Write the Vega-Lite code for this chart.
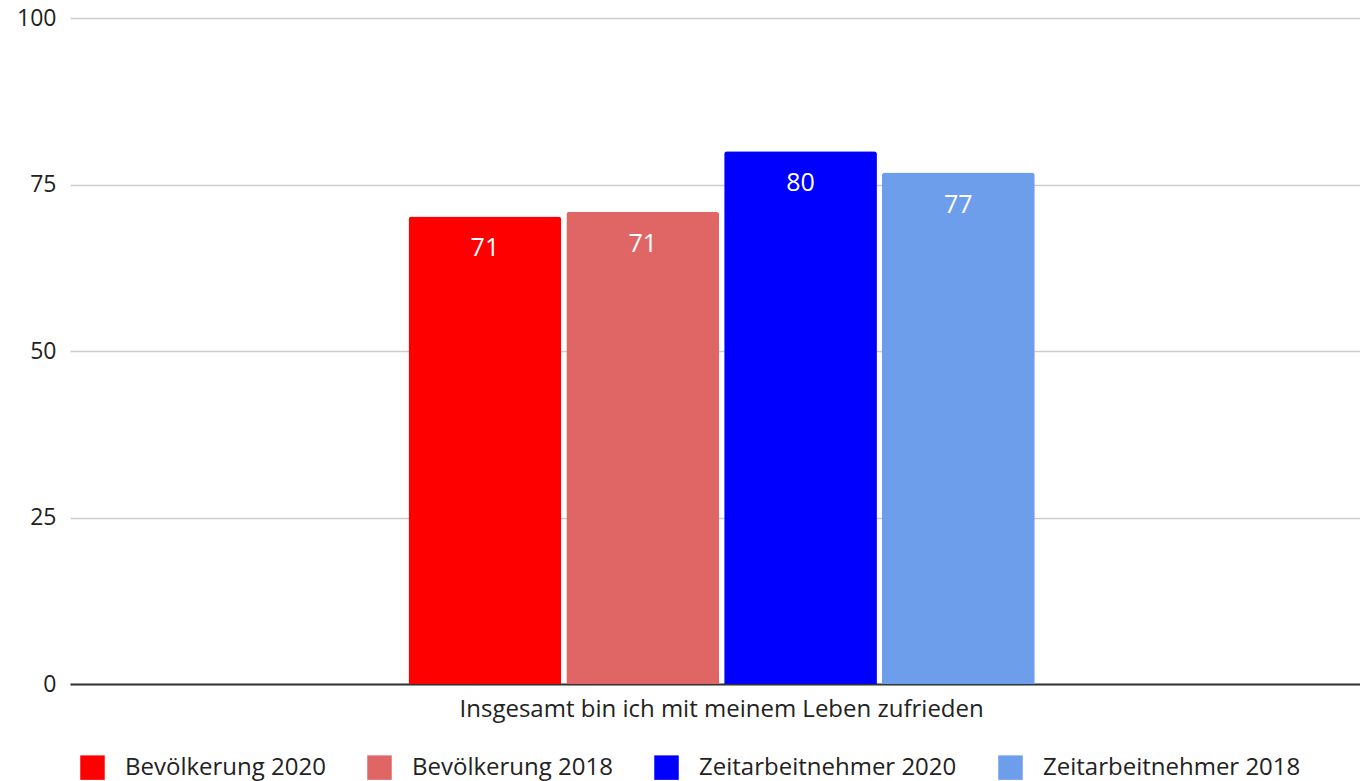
{
  "$schema": "https://vega.github.io/schema/vega-lite/v6.json",
  "autosize": "none",
  "width": 1290,
  "height": 666,
  "padding": {"left": 70, "top": 18, "right": 0, "bottom": 97},
  "background": "white",
  "config": {
    "font": "Open Sans",
    "view": {"stroke": null},
    "axis": {"labelFont": "Open Sans", "titleFont": "Open Sans"},
    "legend": {"labelFont": "Open Sans"}
  },
  "data": {
    "values": [
      {"frage": "Insgesamt bin ich mit meinem Leben zufrieden", "gruppe": "Bevölkerung 2020", "wert": 70.2, "label": "71"},
      {"frage": "Insgesamt bin ich mit meinem Leben zufrieden", "gruppe": "Bevölkerung 2018", "wert": 70.9, "label": "71"},
      {"frage": "Insgesamt bin ich mit meinem Leben zufrieden", "gruppe": "Zeitarbeitnehmer 2020", "wert": 80, "label": "80"},
      {"frage": "Insgesamt bin ich mit meinem Leben zufrieden", "gruppe": "Zeitarbeitnehmer 2018", "wert": 76.8, "label": "77"}
    ]
  },
  "encoding": {
    "x": {
      "field": "frage",
      "type": "nominal",
      "scale": {"paddingInner": 0, "paddingOuter": 0.53, "align": 0.51},
      "axis": {
        "title": null,
        "labelAngle": 0,
        "labelFontSize": 24,
        "labelColor": "#222222",
        "labelPadding": 13,
        "labelLimit": 900,
        "ticks": false,
        "tickSize": 0,
        "domainColor": "#333333",
        "domainWidth": 2,
        "grid": false
      }
    },
    "xOffset": {
      "field": "gruppe",
      "type": "nominal",
      "sort": ["Bevölkerung 2020", "Bevölkerung 2018", "Zeitarbeitnehmer 2020", "Zeitarbeitnehmer 2018"],
      "scale": {"paddingInner": 0.032, "paddingOuter": 0}
    },
    "y": {
      "field": "wert",
      "type": "quantitative",
      "scale": {"domain": [0, 100], "nice": false},
      "axis": {
        "title": null,
        "values": [0, 25, 50, 75, 100],
        "labelFontSize": 23,
        "labelColor": "#222222",
        "labelPadding": 14,
        "ticks": false,
        "tickSize": 0,
        "domain": false,
        "gridColor": "#cccccc",
        "gridWidth": 1.5
      }
    }
  },
  "layer": [
    {
      "mark": {"type": "bar", "cornerRadiusTopLeft": 3, "cornerRadiusTopRight": 3},
      "encoding": {
        "color": {
          "field": "gruppe",
          "type": "nominal",
          "sort": ["Bevölkerung 2020", "Bevölkerung 2018", "Zeitarbeitnehmer 2020", "Zeitarbeitnehmer 2018"],
          "scale": {
            "domain": ["Bevölkerung 2020", "Bevölkerung 2018", "Zeitarbeitnehmer 2020", "Zeitarbeitnehmer 2018"],
            "range": ["#ff0000", "#e06666", "#0000ff", "#6d9eeb"]
          },
          "legend": {
            "title": null,
            "orient": "none",
            "direction": "horizontal",
            "legendX": 10,
            "legendY": 737,
            "symbolType": "square",
            "symbolSize": 600,
            "symbolStrokeWidth": 0,
            "symbolOpacity": 1,
            "labelFontSize": 24,
            "labelColor": "#222222",
            "labelOffset": 20,
            "columnPadding": 41,
            "padding": 0,
            "labelLimit": 400
          }
        }
      }
    },
    {
      "mark": {"type": "text", "color": "white", "fontSize": 25, "baseline": "alphabetic", "dy": 40},
      "encoding": {
        "text": {"field": "label"}
      }
    }
  ]
}
